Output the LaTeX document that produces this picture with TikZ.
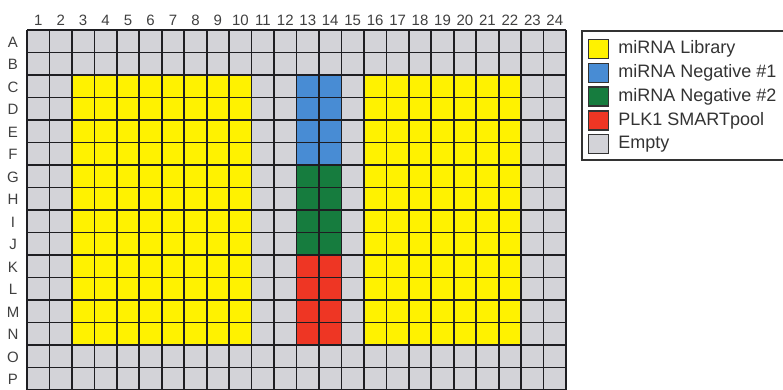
\documentclass[tikz,border=0pt]{standalone}
\usepackage{fontspec}
\setmainfont{Liberation Sans}
\usepackage{xcolor}
\usetikzlibrary{positioning}

\definecolor{libyellow}{RGB}{255,242,0}
\definecolor{negblue}{RGB}{72,140,212}
\definecolor{neggreen}{RGB}{22,124,62}
\definecolor{plkred}{RGB}{238,54,36}
\definecolor{emptygray}{RGB}{211,211,216}
\definecolor{gridline}{RGB}{30,30,34}

\begin{document}
\begin{tikzpicture}[
    x=1pt, y=-1pt,
    gridrule/.style={draw=gridline, line width=1.7pt},
    collabel/.style={font=\fontsize{15}{15}\selectfont, anchor=base, inner sep=0pt, text=black!75},
    rowlabel/.style={font=\fontsize{15}{15}\selectfont, anchor=center, inner sep=0pt, text=black!75},
    swatch/.style={draw=black!80, line width=1.2pt, minimum width=20pt, minimum height=19pt, inner sep=0pt},
    legtext/.style={font=\fontsize{18}{18}\selectfont, anchor=west, inner sep=0pt, text=black!80},
]
\useasboundingbox (0,0) rectangle (783,389);

% plate fill
\fill[emptygray] (27,30) rectangle (566,390);
\fill[libyellow] (27+2*22.46,30+2*22.5) rectangle (27+10*22.46,30+14*22.5);
\fill[libyellow] (27+15*22.46,30+2*22.5) rectangle (27+22*22.46,30+14*22.5);
\fill[negblue]   (27+12*22.46,30+2*22.5) rectangle (27+14*22.46,30+6*22.5);
\fill[neggreen]  (27+12*22.46,30+6*22.5) rectangle (27+14*22.46,30+10*22.5);
\fill[plkred]    (27+12*22.46,30+10*22.5) rectangle (27+14*22.46,30+14*22.5);

% wells
\foreach \i in {0,...,24}
    \draw[gridrule] (27+\i*22.46,30) -- (27+\i*22.46,390);
\foreach \j in {0,...,16}
    \draw[gridrule] (27,30+\j*22.5) -- (566,30+\j*22.5);

% column and row labels
\foreach \c in {1,...,24}
    \node[collabel] (col\c) at (27+\c*22.46-11.23,25.5) {\c};
\foreach \r [count=\j] in {A,...,P}
    \node[rowlabel] (row\r) at (13,30+\j*22.5-10.5) {\r};

% legend
\draw[draw=black!80, line width=1.3pt] (582,31) rectangle (790,160);
\node[swatch, fill=libyellow]  (sw1) at (598.5,49) {};
\node[swatch, fill=negblue]    (sw2) at (598.5,73) {};
\node[swatch, fill=neggreen]   (sw3) at (598.5,96.5) {};
\node[swatch, fill=plkred]     (sw4) at (598.5,120.5) {};
\node[swatch, fill=emptygray]  (sw5) at (598.5,144) {};
\node[legtext, right=9pt of sw1] (lib)  {miRNA Library};
\node[legtext, right=9pt of sw2] (neg1) {miRNA Negative \#1};
\node[legtext, right=9pt of sw3] (neg2) {miRNA Negative \#2};
\node[legtext, right=9pt of sw4] (plk)  {PLK1 SMARTpool};
\node[legtext, right=9pt of sw5] (emp)  {Empty};
\end{tikzpicture}
\end{document}
